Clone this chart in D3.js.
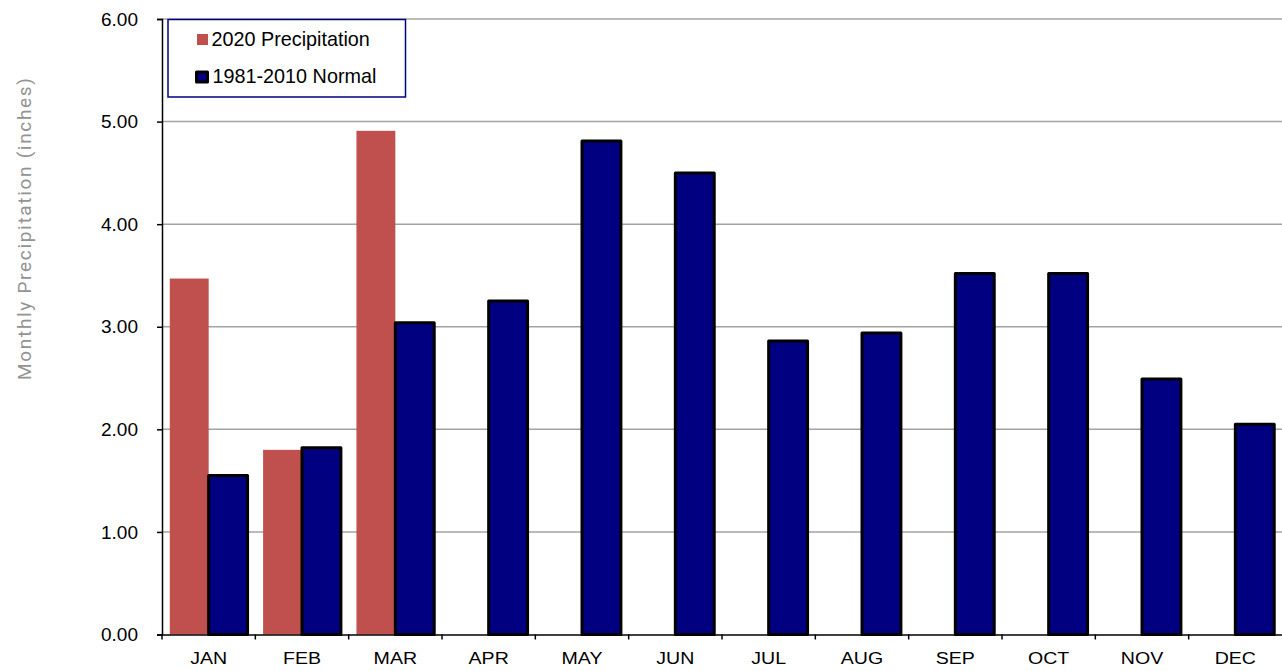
<!DOCTYPE html>
<html>
<head>
<meta charset="utf-8">
<script src="https://cdn.jsdelivr.net/npm/d3@7"></script>
<style>
  html, body { margin: 0; padding: 0; background: #fff; }
  svg { display: block; font-family: "Liberation Sans", Arial, sans-serif; }
</style>
</head>
<body>
<svg id="chart" width="1282" height="671"></svg>
<script>
// data
const months = ["JAN", "FEB", "MAR", "APR", "MAY", "JUN", "JUL", "AUG", "SEP", "OCT", "NOV", "DEC"];
const precip2020 = [3.47, 1.80, 4.91];
const normal = [1.55, 1.82, 3.04, 3.25, 4.81, 4.50, 2.86, 2.94, 3.52, 3.52, 2.49, 2.05];
const yTicks = [0, 1, 2, 3, 4, 5, 6];
const seriesNames = ["2020 Precipitation", "1981-2010 Normal"];

const svg = d3.select("#chart");
const plotLeft = 162, plotRight = 1282, plotTop = 19, plotBottom = 634.5;

const x = d3.scaleBand().domain(months).range([plotLeft, plotRight]);
const x1 = d3.scaleBand().domain(["p", "n"]).range([0, x.bandwidth()]).paddingInner(0).paddingOuter(0.2);
const y = d3.scaleLinear().domain([0, 6]).range([plotBottom, plotTop]);

// gridlines
svg.append("g")
  .selectAll("line")
  .data(yTicks.filter(d => d > 0))
  .join("line")
  .attr("x1", plotLeft).attr("x2", plotRight)
  .attr("y1", d => y(d)).attr("y2", d => y(d))
  .attr("stroke", "#a3a3a3")
  .attr("stroke-width", 1.5);

// 2020 bars
svg.append("g")
  .selectAll("rect")
  .data(precip2020)
  .join("rect")
  .attr("x", (d, i) => x(months[i]) + x1("p"))
  .attr("y", d => y(d))
  .attr("width", x1.bandwidth())
  .attr("height", d => plotBottom - y(d))
  .attr("fill", "#c0504d");

// normal bars
svg.append("g")
  .selectAll("rect")
  .data(normal)
  .join("rect")
  .attr("x", (d, i) => x(months[i]) + x1("n"))
  .attr("y", d => y(d))
  .attr("width", x1.bandwidth())
  .attr("height", d => plotBottom - y(d))
  .attr("fill", "#000080")
  .attr("stroke", "#000")
  .attr("stroke-width", 3)
  .attr("stroke-linejoin", "round");

// y axis
const yAxis = svg.append("g")
  .attr("transform", `translate(${plotLeft},0)`)
  .call(d3.axisLeft(y).tickValues(yTicks).tickFormat(d3.format(".2f")).tickSize(5).tickPadding(19));
yAxis.select(".domain").attr("stroke", "#000").attr("stroke-width", 1.5);
yAxis.selectAll(".tick line").attr("stroke", "#000").attr("stroke-width", 1.5);
yAxis.selectAll(".tick text")
  .attr("font-size", 19)
  .attr("font-family", "Liberation Sans, Arial, sans-serif")
  .attr("fill", "#000");

// x axis
const xAxis = svg.append("g")
  .attr("transform", `translate(0,${plotBottom})`)
  .call(d3.axisBottom(x).tickSize(0).tickPadding(0));
xAxis.select(".domain").attr("stroke", "#000").attr("stroke-width", 1.5);
xAxis.selectAll(".tick text")
  .attr("y", 30)
  .attr("dy", null)
  .attr("font-size", 16.3)
  .attr("font-family", "Liberation Sans, Arial, sans-serif")
  .attr("fill", "#000")
  .attr("transform", "scale(1.2,1)");
// tick marks at band edges
xAxis.append("g")
  .selectAll("line")
  .data(months)
  .join("line")
  .attr("x1", d => x(d)).attr("x2", d => x(d))
  .attr("y1", 0).attr("y2", 5)
  .attr("stroke", "#000")
  .attr("stroke-width", 1.5);

// y title
svg.append("text")
  .attr("transform", `translate(31,229) rotate(-90)`)
  .attr("text-anchor", "middle")
  .attr("font-family", "Roboto, sans-serif")
  .attr("font-size", 19)
  .attr("fill", "#939393")
  .attr("textLength", 302)
  .attr("lengthAdjust", "spacing")
  .text("Monthly Precipitation (inches)");

// legend
const legend = svg.append("g");
legend.append("rect")
  .attr("x", 168).attr("y", 19.5)
  .attr("width", 237.5).attr("height", 77.5)
  .attr("fill", "#fff")
  .attr("stroke", "#000080")
  .attr("stroke-width", 1.5);
legend.append("rect")
  .attr("x", 197).attr("y", 34)
  .attr("width", 11).attr("height", 11)
  .attr("fill", "#c0504d");
legend.append("rect")
  .attr("x", 196.5).attr("y", 72)
  .attr("width", 11).attr("height", 10)
  .attr("fill", "#000080")
  .attr("stroke", "#000")
  .attr("stroke-width", 3)
  .attr("stroke-linejoin", "round");
legend.selectAll("text.lbl")
  .data(seriesNames)
  .join("text")
  .attr("class", "lbl")
  .attr("x", (d, i) => i === 0 ? 211.5 : 212.5)
  .attr("y", (d, i) => i === 0 ? 45.5 : 83)
  .attr("font-size", 19.8)
  .attr("fill", "#000")
  .text(d => d);
</script>
</body>
</html>
